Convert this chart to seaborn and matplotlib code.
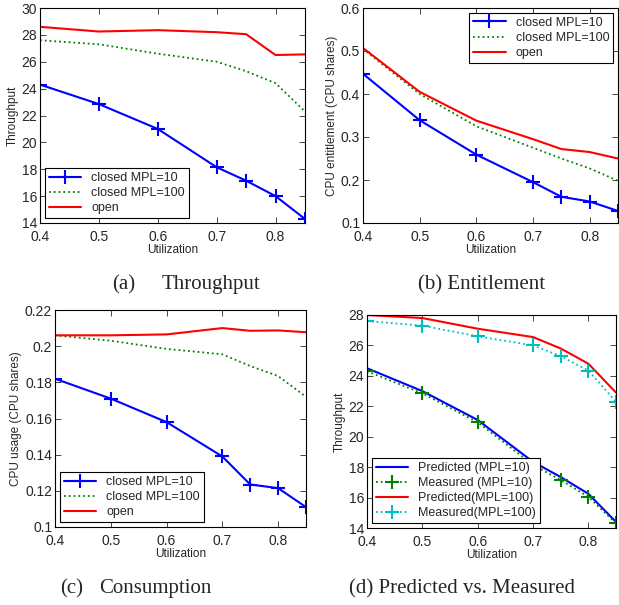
import numpy as np
import pandas as pd
import seaborn as sns
import matplotlib.pyplot as plt

util = [0.4, 0.5, 0.6, 0.7, 0.75, 0.8, 0.85]

# (a) throughput
thr_closed10 = [24.3, 22.85, 21.0, 18.15, 17.15, 16.0, 14.3]
thr_closed100 = [27.6, 27.3, 26.6, 26.0, 25.3, 24.4, 22.3]
thr_open = [28.6, 28.25, 28.35, 28.2, 28.05, 26.5, 26.55]

# (b) entitlement
ent_closed10 = [0.447, 0.339, 0.259, 0.195, 0.161, 0.150, 0.128]
ent_closed100 = [0.505, 0.400, 0.325, 0.275, 0.250, 0.227, 0.198]
ent_open = [0.507, 0.405, 0.338, 0.295, 0.272, 0.265, 0.250]

# (c) consumption
use_closed10 = [0.182, 0.171, 0.158, 0.139, 0.1235, 0.1215, 0.111]
use_closed100 = [0.206, 0.203, 0.1985, 0.1955, 0.189, 0.1835, 0.172]
use_open = [0.206, 0.206, 0.2065, 0.210, 0.2085, 0.2087, 0.2077]

# (d) predicted vs measured
pred10 = [24.5, 23.0, 21.1, 18.35, 17.35, 16.25, 14.4]
meas10 = [24.3, 22.85, 20.95, 18.15, 17.15, 16.05, 14.3]
pred100 = [28.0, 27.8, 27.1, 26.55, 25.8, 24.8, 22.9]
meas100 = [27.6, 27.3, 26.6, 26.0, 25.3, 24.35, 22.3]

sns.set_theme(style="ticks")
plt.rcParams['font.family'] = ['Liberation Sans', 'DejaVu Sans']
plt.rcParams['xtick.direction'] = 'in'
plt.rcParams['ytick.direction'] = 'in'
plt.rcParams['xtick.top'] = True
plt.rcParams['ytick.right'] = True
plt.rcParams['axes.edgecolor'] = 'black'
plt.rcParams['axes.linewidth'] = 0.8

fig = plt.figure(figsize=(6.19, 6.05), dpi=100)
W, H = 619, 605

def make_ax(l, t, r, b):
    return fig.add_axes([l / W, 1 - b / H, (r - l) / W, (b - t) / H])

ax_a = make_ax(40, 8, 305, 223)
ax_b = make_ax(363, 8, 618, 223)
ax_c = make_ax(55, 310, 306, 527)
ax_d = make_ax(367, 315, 616, 528)

def three_lines(ax, c10, c100, op):
    df = pd.DataFrame({'u': util, 'c10': c10, 'c100': c100, 'op': op})
    sns.lineplot(data=df, x='u', y='c10', ax=ax, color='#0000ff', lw=1.5,
                 marker='+', markersize=10, markeredgewidth=1.5,
                 markeredgecolor='#0000ff', label='closed MPL=10')
    sns.lineplot(data=df, x='u', y='c100', ax=ax, color='#008000', lw=1.3,
                 linestyle=':', label='closed MPL=100')
    sns.lineplot(data=df, x='u', y='op', ax=ax, color='#ff0000', lw=1.5,
                 label='open')

three_lines(ax_a, thr_closed10, thr_closed100, thr_open)
three_lines(ax_b, ent_closed10, ent_closed100, ent_open)
three_lines(ax_c, use_closed10, use_closed100, use_open)

dfd = pd.DataFrame({'u': util, 'p10': pred10, 'm10': meas10,
                    'p100': pred100, 'm100': meas100})
sns.lineplot(data=dfd, x='u', y='p10', ax=ax_d, color='#0000ff', lw=1.5,
             label='Predicted (MPL=10)')
sns.lineplot(data=dfd, x='u', y='m10', ax=ax_d, color='#008000', lw=1.3,
             linestyle=':', marker='+', markersize=10, markeredgewidth=1.5,
             markeredgecolor='#008000', label='Measured (MPL=10)')
sns.lineplot(data=dfd, x='u', y='p100', ax=ax_d, color='#ff0000', lw=1.5,
             label='Predicted(MPL=100)')
sns.lineplot(data=dfd, x='u', y='m100', ax=ax_d, color='#00bfbf', lw=1.3,
             linestyle=':', marker='+', markersize=10, markeredgewidth=1.5,
             markeredgecolor='#00bfbf', label='Measured(MPL=100)')

ax_a.set_ylim(14, 30)
ax_a.set_yticks(np.arange(14, 31, 2))
ax_b.set_ylim(0.1, 0.6)
ax_b.set_yticks([0.1, 0.2, 0.3, 0.4, 0.5, 0.6])
ax_c.set_ylim(0.1, 0.22)
ax_c.set_yticks([0.1, 0.12, 0.14, 0.16, 0.18, 0.2, 0.22])
ax_c.set_yticklabels(['0.1', '0.12', '0.14', '0.16', '0.18', '0.2', '0.22'])
ax_d.set_ylim(14, 28)
ax_d.set_yticks(np.arange(14, 29, 2))

ylabels = ['Throughput', 'CPU entitlement (CPU shares)',
           'CPU usage (CPU shares)', 'Throughput']
locs = ['lower left', 'upper right', 'lower left', 'lower left']
for ax, yl, loc in zip([ax_a, ax_b, ax_c, ax_d], ylabels, locs):
    ax.set_xlim(0.4, 0.85)
    ax.set_xticks([0.4, 0.5, 0.6, 0.7, 0.8])
    ax.set_xticklabels(['0.4', '0.5', '0.6', '0.7', '0.8'])
    ax.tick_params(labelsize=10, length=4, width=0.6, pad=2)
    ax.tick_params(axis='x', pad=5)
    ax.set_xlabel('Utilization', fontsize=8.5, labelpad=0)
    ax.set_ylabel(yl, fontsize=8.5, labelpad=2)
    leg = ax.legend(loc=loc, fontsize=9, frameon=True, fancybox=False,
                    edgecolor='black', framealpha=1, handlelength=2.6,
                    borderpad=0.3, labelspacing=0.25, borderaxespad=0.4)
    leg.get_frame().set_linewidth(0.8)

cap_font = dict(family=['Liberation Serif', 'DejaVu Serif'], fontsize=15,
                va='center')
fig.text(112 / W, 1 - 285 / H, '(a)', ha='left', **cap_font)
fig.text(260 / W, 1 - 285 / H, 'Throughput', ha='right', **cap_font)
fig.text(482 / W, 1 - 285 / H, '(b) Entitlement', ha='center', **cap_font)
fig.text(60 / W, 1 - 589 / H, '(c)', ha='left', **cap_font)
fig.text(212 / W, 1 - 589 / H, 'Consumption', ha='right', **cap_font)
fig.text(462 / W, 1 - 589 / H, '(d) Predicted vs. Measured', ha='center', **cap_font)

fig.savefig('out.png', dpi=100)
